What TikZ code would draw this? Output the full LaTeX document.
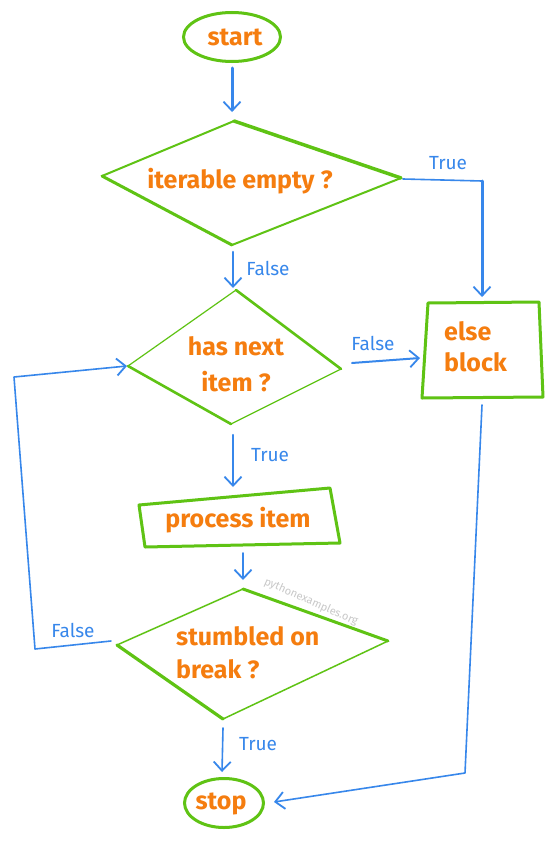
\documentclass[tikz,border=0pt]{standalone}
\usepackage{fontspec}
\setmainfont{Fira Sans}
\usetikzlibrary{arrows.meta,shapes.geometric}
\definecolor{grn}{RGB}{95,195,20}
\definecolor{org}{RGB}{245,125,15}
\definecolor{blu}{RGB}{55,135,235}
\definecolor{wmk}{RGB}{200,200,200}
\begin{document}
\begin{tikzpicture}[x=1pt,y=-1pt,
  gline/.style={draw=grn,line width=#1,line cap=round,line join=round},
  gline/.default=1.5pt,
  conn/.style={draw=blu,line width=#1,line cap=round,line join=round},
  conn/.default=1.6pt,
  tipped/.style={-{Straight Barb[length=9pt,width=17pt,line width=1.8pt]}},
  otext/.style={text=org,font=\bfseries\fontsize{25}{33}\selectfont,align=left,inner sep=0pt},
  lab/.style={text=blu,font=\fontsize{19}{20}\selectfont,inner sep=0pt},
  terminal/.style={ellipse,draw=grn,line width=3pt,inner sep=0pt},
 ]
\useasboundingbox[fill=white] (0,0) rectangle (559,843);

% ---------- terminals ----------
\node[terminal,minimum width=97pt,minimum height=49pt] (start) at (232,37) {};
\node[otext] (starttxt) at (235,37) {start};
\node[terminal,minimum width=79pt,minimum height=49pt] (stop) at (224,803) {};
\node[otext] (stoptxt) at (221,804) {stop};

% ---------- decision 1 ----------
\coordinate (d1t) at (234,121);
\coordinate (d1l) at (102,176);
\coordinate (d1r) at (401,178);
\coordinate (d1b) at (232,245);
\draw[gline=3.5pt] (d1t) -- (d1r);
\draw[gline=2pt] (d1r) -- (d1b);
\draw[gline=3pt] (d1b) -- (d1l);
\draw[gline=2pt] (d1l) -- (d1t);
\node[otext] (d1txt) at (240,181) {iterable empty ?};

% ---------- decision 2 ----------
\coordinate (d2t) at (236,290);
\coordinate (d2l) at (128,366);
\coordinate (d2r) at (341,369);
\coordinate (d2b) at (231,424);
\draw[gline=1.2pt] (d2l) -- (d2t);
\draw[gline=2.6pt] (d2t) -- (d2r);
\draw[gline=1.2pt] (d2r) -- (d2b);
\draw[gline=2.6pt] (d2b) -- (d2l);
\node[otext,align=center,font=\bfseries\fontsize{25}{36}\selectfont] (d2txt) at (236,364) {has next\\item ?};

% ---------- else block ----------
\coordinate (e1) at (428,303);
\coordinate (e2) at (539,302);
\coordinate (e3) at (543,397);
\coordinate (e4) at (422,398);
\draw[gline=3pt] (e1) -- (e2) -- (e3) -- (e4) -- cycle;
\node[otext,anchor=west,font=\bfseries\fontsize{25}{31}\selectfont] (elsetxt) at (444,347) {else\\block};

% ---------- process item ----------
\coordinate (p1) at (139,505);
\coordinate (p2) at (330,488);
\coordinate (p3) at (340,543);
\coordinate (p4) at (145,547);
\draw[gline=3pt] (p1) -- (p2) -- (p3) -- (p4) -- cycle;
\node[otext] (ptxt) at (238,520) {process item};

% ---------- decision 3 ----------
\coordinate (d3t) at (243,589);
\coordinate (d3l) at (117,645);
\coordinate (d3r) at (388,641);
\coordinate (d3b) at (223,719);
\draw[gline=1.5pt] (d3l) -- (d3t);
\draw[gline=3pt] (d3t) -- (d3r);
\draw[gline=1.5pt] (d3r) -- (d3b);
\draw[gline=3.2pt] (d3b) -- (d3l);
\node[otext,anchor=west] (d3txt) at (176,653) {stumbled on\\break ?};

% watermark
\node[text=wmk,font=\fontsize{11}{12}\selectfont,rotate=-24,inner sep=0pt] (wm) at (311,602) {pythonexamples.org};

% ---------- connector end points ----------
\coordinate (a1s) at (232,68);   \coordinate (a1e) at (232,112);
\coordinate (a2s) at (233,252);  \coordinate (a2e) at (233,288);
\coordinate (a3s) at (403,179);  \coordinate (a3c) at (482,181);  \coordinate (a3e) at (482,297);
\coordinate (a4s) at (352,363);  \coordinate (a4e) at (420,358);
\coordinate (a5s) at (233,435);  \coordinate (a5e) at (233,487);
\coordinate (a6s) at (243,553);  \coordinate (a6e) at (243,580);
\coordinate (a7s) at (111,641);  \coordinate (a7c1) at (35,649); \coordinate (a7c2) at (14,377); \coordinate (a7e) at (127,366);
\coordinate (a8s) at (223,728);  \coordinate (a8e) at (222,772);
\coordinate (a9s) at (482,405);  \coordinate (a9c) at (465,773); \coordinate (a9e) at (274,802);

% ---------- connectors ----------
\draw[conn=3pt,tipped] (a1s) -- (a1e);
\draw[conn=2.6pt,tipped] (a2s) -- (a2e);
\draw[conn=1.6pt] (a3s) -- (a3c);
\draw[conn=3pt,tipped] (a3c) -- (a3e);
\draw[conn=2pt,tipped] (a4s) -- (a4e);
\draw[conn=2.2pt,tipped] (a5s) -- (a5e);
\draw[conn=1.6pt,tipped] (a6s) -- (a6e);
\draw[conn=1.6pt,tipped] (a7s) -- (a7c1) -- (a7c2) -- (a7e);
\draw[conn=1.6pt,tipped] (a8s) -- (a8e);
\draw[conn=1.6pt,tipped] (a9s) -- (a9c) -- (a9e);

% ---------- labels ----------
\node[lab] (l1) at (268,268) {False};
\node[lab] (l2) at (448,163) {True};
\node[lab] (l3) at (373,343) {False};
\node[lab] (l4) at (270,455) {True};
\node[lab] (l5) at (73,630) {False};
\node[lab] (l6) at (258,744) {True};
\end{tikzpicture}
\end{document}
